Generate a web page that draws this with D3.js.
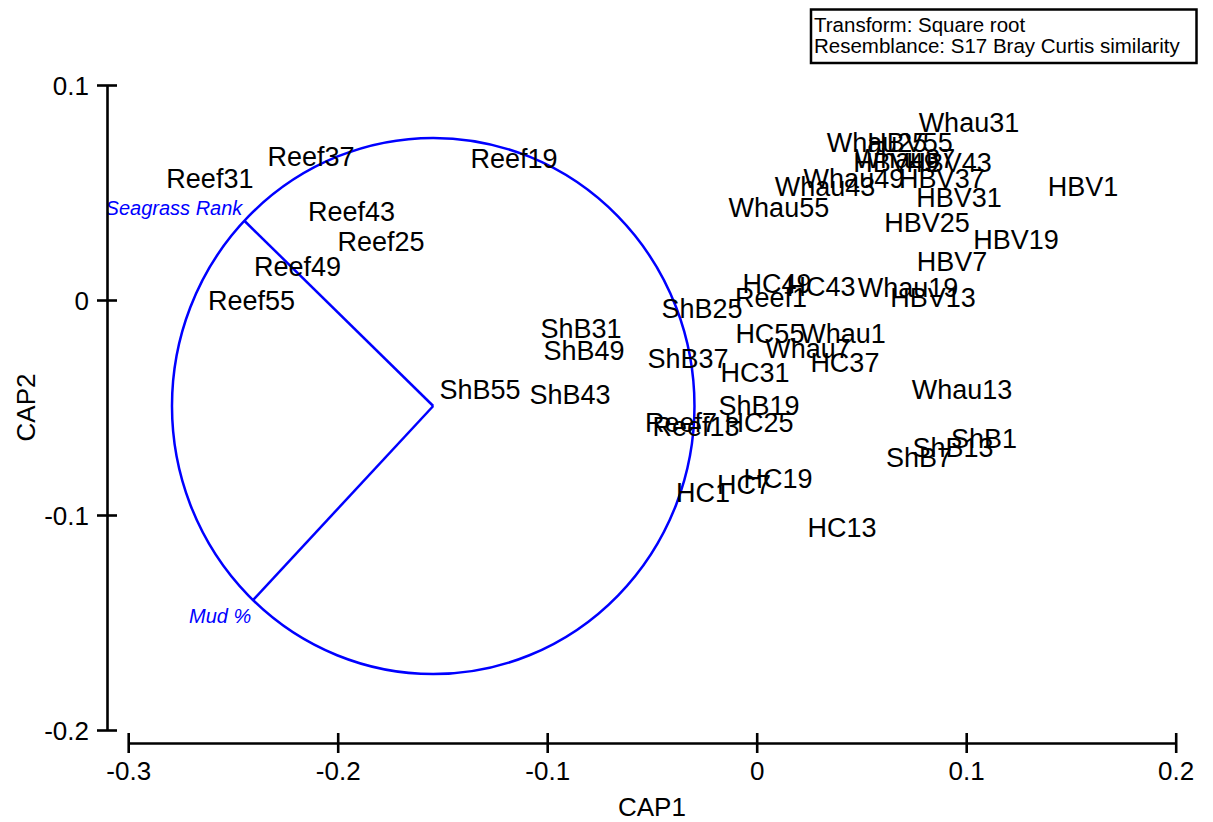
<!DOCTYPE html>
<html>
<head>
<meta charset="utf-8">
<script src="https://cdn.jsdelivr.net/npm/d3@7/dist/d3.min.js"></script>
<style>
  html, body { margin: 0; padding: 0; background: #fff; }
  svg { display: block; font-family: "Liberation Sans", Arial, sans-serif; }
</style>
</head>
<body>
<svg id="chart" width="1213" height="822"></svg>
<script>
// ---- Data ----
const sampleLabels = [
  "Reef1","Reef7","Reef13","Reef19","Reef25","Reef31","Reef37","Reef43","Reef49","Reef55",
  "ShB1","ShB7","ShB13","ShB19","ShB25","ShB31","ShB37","ShB43","ShB49","ShB55",
  "HC1","HC7","HC13","HC19","HC25","HC31","HC37","HC43","HC49","HC55",
  "HBV1","HBV7","HBV13","HBV19","HBV25","HBV31","HBV37","HBV43","HBV49","HBV55",
  "Whau1","Whau7","Whau13","Whau19","Whau25","Whau31","Whau37","Whau43","Whau49","Whau55"
];
const cap1Values = [
  0.0068,-0.0361,-0.0290,-0.1158,-0.1793,-0.2610,-0.2127,-0.1934,-0.2192,-0.2411,
  0.1085,0.0775,0.0937,0.0011,-0.0261,-0.0839,-0.0328,-0.0891,-0.0824,-0.1321,
  -0.0256,-0.0061,0.0407,0.0102,0.0011,-0.0008,0.0421,0.0307,0.0097,0.0063,
  0.1558,0.0932,0.0842,0.1238,0.0813,0.0966,0.0884,0.0918,0.0665,0.0732,
  0.0412,0.0245,0.0980,0.0722,0.0574,0.1013,0.0708,0.0326,0.0464,0.0106
];
const cap2Values = [
  0.0014,-0.0567,-0.0586,0.0660,0.0274,0.0567,0.0670,0.0414,0.0158,0.0000,
  -0.0642,-0.0730,-0.0684,-0.0488,-0.0037,-0.0130,-0.0270,-0.0437,-0.0233,-0.0414,
  -0.0893,-0.0856,-0.1056,-0.0828,-0.0567,-0.0335,-0.0288,0.0065,0.0079,-0.0153,
  0.0530,0.0181,0.0014,0.0284,0.0363,0.0479,0.0565,0.0642,0.0642,0.0733,
  -0.0153,-0.0223,-0.0414,0.0058,0.0733,0.0826,0.0660,0.0530,0.0565,0.0433
];
const xTicks = [-0.3, -0.2, -0.1, 0, 0.1, 0.2];
const yTicks = [-0.2, -0.1, 0, 0.1];
const vectorNames = ["Seagrass Rank", "Mud %"];
const vectorCorrX = [-0.723, -0.689];
const vectorCorrY = [0.691, -0.723];
const circleCenter = [-0.1544, -0.0493];
const circleRadius = 0.1247;
const legendLines = ["Transform: Square root", "Resemblance: S17 Bray Curtis similarity"];

// ---- Scales ----
const svg = d3.select("#chart");
const x = d3.scaleLinear().domain([-0.3, 0.2]).range([128.2, 1175.7]);
const y = d3.scaleLinear().domain([-0.2, 0.1]).range([730, 85]);
const blue = "#0000ff";

// clip for plot content (text clipped at the y axis)
svg.append("defs").append("clipPath").attr("id", "plotclip")
  .append("rect").attr("x", 108).attr("y", 0).attr("width", 1105).attr("height", 742);

const plot = svg.append("g").attr("clip-path", "url(#plotclip)");

// ---- Circle and vectors ----
const cx = x(circleCenter[0]), cy = y(circleCenter[1]);
plot.append("ellipse")
  .attr("cx", cx).attr("cy", cy)
  .attr("rx", x(circleCenter[0] + circleRadius) - cx)
  .attr("ry", cy - y(circleCenter[1] + circleRadius))
  .attr("fill", "none").attr("stroke", blue).attr("stroke-width", 2.5);

const vecs = vectorNames.map((n, i) => ({
  name: n,
  ex: x(circleCenter[0] + vectorCorrX[i] * circleRadius),
  ey: y(circleCenter[1] + vectorCorrY[i] * circleRadius)
}));
plot.selectAll("line.vec").data(vecs).enter().append("line")
  .attr("class", "vec")
  .attr("x1", cx).attr("y1", cy)
  .attr("x2", d => d.ex).attr("y2", d => d.ey)
  .attr("stroke", blue).attr("stroke-width", 2.5);

plot.selectAll("text.vlab").data(vecs).enter().append("text")
  .attr("class", "vlab")
  .attr("x", d => d.ex - 2)
  .attr("y", (d, i) => i === 0 ? d.ey - 6 : d.ey + 23)
  .attr("text-anchor", "end")
  .attr("font-style", "italic")
  .attr("font-size", 20)
  .attr("fill", blue)
  .text(d => d.name);

// ---- Sample labels ----
const pts = sampleLabels.map((l, i) => ({ label: l, c1: cap1Values[i], c2: cap2Values[i] }));
plot.selectAll("text.pt").data(pts).enter().append("text")
  .attr("class", "pt")
  .attr("x", d => x(d.c1))
  .attr("y", d => y(d.c2))
  .attr("dy", "0.36em")
  .attr("text-anchor", "middle")
  .attr("font-size", 27)
  .attr("fill", "#000")
  .text(d => d.label);

// ---- Axes ----
const fmt = d => d === 0 ? "0" : d3.format(".1f")(d).replace("−", "-");

const gx = svg.append("g").attr("transform", "translate(0,743)")
  .call(d3.axisBottom(x).tickValues(xTicks).tickSize(10).tickSizeOuter(0).tickFormat(fmt));
gx.select(".domain").attr("stroke", "#000").attr("stroke-width", 2.6);
gx.selectAll(".tick line").attr("y1", -10).attr("y2", 10).attr("stroke", "#000").attr("stroke-width", 2.6);
gx.selectAll(".tick text").attr("y", 37).attr("dy", 0)
  .attr("font-size", 26).attr("font-family", "Liberation Sans, Arial, sans-serif").attr("fill", "#000");

const gy = svg.append("g").attr("transform", "translate(107,0)")
  .call(d3.axisLeft(y).tickValues(yTicks).tickSize(10).tickSizeOuter(0).tickFormat(fmt));
gy.select(".domain").attr("stroke", "#000").attr("stroke-width", 2.6);
gy.selectAll(".tick line").attr("x1", 10).attr("x2", -10).attr("stroke", "#000").attr("stroke-width", 2.6);
gy.selectAll(".tick text").attr("x", -18).attr("dy", "0.36em")
  .attr("font-size", 26).attr("font-family", "Liberation Sans, Arial, sans-serif").attr("fill", "#000");

// Axis titles
svg.append("text")
  .attr("x", (x.range()[0] + x.range()[1]) / 2).attr("y", 816)
  .attr("text-anchor", "middle").attr("font-size", 26).text("CAP1");
svg.append("text")
  .attr("transform", `translate(35,${(y.range()[0] + y.range()[1]) / 2}) rotate(-90)`)
  .attr("text-anchor", "middle").attr("font-size", 26).text("CAP2");

// ---- Legend box ----
const lg = svg.append("g");
lg.append("rect").attr("x", 811).attr("y", 9.5).attr("width", 385.5).attr("height", 53.5)
  .attr("fill", "none").attr("stroke", "#000").attr("stroke-width", 2.5);
lg.selectAll("text").data(legendLines).enter().append("text")
  .attr("x", 814).attr("y", (d, i) => 31.5 + i * 21.5)
  .attr("font-size", 20.5).attr("fill", "#000")
  .text(d => d);
</script>
</body>
</html>
